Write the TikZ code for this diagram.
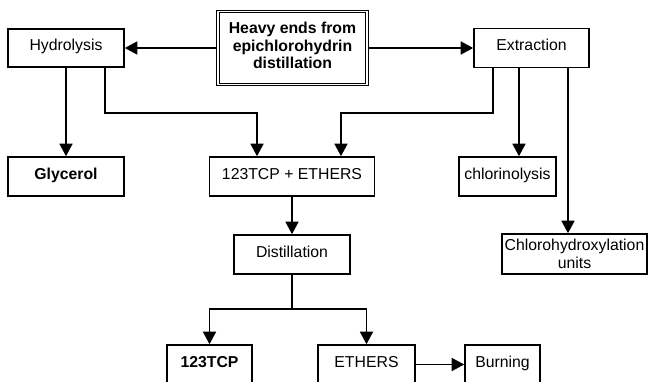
\documentclass[tikz,border=0pt]{standalone}
\usepackage{fontspec}
\setmainfont{Liberation Sans}
\usetikzlibrary{arrows.meta,calc}
\begin{document}
\begin{tikzpicture}[x=1pt,y=-1pt,
  base/.style={draw, line width=1.6pt, inner sep=2pt, font=\fontsize{15.8}{18}\selectfont},
  box/.style={base, text height=12pt, text depth=6.7pt},
  mbox/.style={base, align=center},
  arr/.style={line width=1.6pt, -{Triangle[length=12.5pt,width=13pt]}}]
\useasboundingbox (0,0) rectangle (648,381);
\clip (0,0) rectangle (648,381);
% nodes
\node[draw, double, double distance=1.6pt, line width=1.1pt, minimum width=149pt, minimum height=73pt,
  label={[font=\fontsize{15.8}{17.5}\selectfont\bfseries, align=center, yshift=2.5pt]center:Heavy ends from\\epichlorohydrin\\distillation}] (heavy) at (292.5,48) {};
\node[box, minimum width=116pt, minimum height=38pt] (hyd) at (66,48) {Hydrolysis};
\node[box, minimum width=115pt, minimum height=39pt] (ext) at (531.5,48) {Extraction};
\node[box, minimum width=116pt, minimum height=39pt, font=\fontsize{15.8}{18}\selectfont\bfseries] (gly) at (66,176.5) {Glycerol};
\node[box, minimum width=165pt, minimum height=39pt] (tcpe) at (292,176.5) {123TCP + ETHERS};
\node[box, minimum width=97pt, minimum height=39pt] (chl) at (507.5,176.5) {chlorinolysis};
\node[mbox, minimum width=145pt, minimum height=40pt] (chx) at (574.5,254) {Chlorohydroxylation\\units};
\node[box, minimum width=116pt, minimum height=39pt] (dist) at (292,254.5) {Distillation};
\node[box, minimum width=85pt, minimum height=39pt, font=\fontsize{15.8}{18}\selectfont\bfseries] (tcp) at (209.5,364.5) {123TCP};
\node[box, minimum width=97pt, minimum height=39pt] (eth) at (366.5,364.5) {ETHERS};
\node[box, minimum width=75pt, minimum height=39pt] (burn) at (502.5,364.5) {Burning};
% junction levels
\coordinate (j1) at (0,113);
\coordinate (j2) at (0,309);
% connectors
\draw[arr] (heavy.west) -- (hyd.east);
\draw[arr] (heavy.east) -- (ext.west);
\draw[arr] (hyd.south) -- (gly.north);
\coordinate (ha) at ($(hyd.south)+(39,0)$);
\coordinate (ta) at ($(tcpe.north)+(-35,0)$);
\draw[arr] (ha) -- (ha |- j1) -| (ta);
\coordinate (ea) at ($(ext.south)+(-38.5,0)$);
\coordinate (tb) at ($(tcpe.north)+(49,0)$);
\draw[arr] (ea) -- (ea |- j1) -| (tb);
\coordinate (ec) at ($(ext.south)+(-12.5,0)$);
\draw[arr] (ec) -- (ec |- chl.north);
\coordinate (ex) at ($(ext.south)+(36.5,0)$);
\draw[arr] (ex) -- (ex |- chx.north);
\draw[arr] (tcpe.south) -- (dist.north);
\draw[arr] (dist.south) -- (dist.south |- j2) -| (tcp.north);
\draw[arr] (dist.south |- j2) -| (eth.north);
\draw[arr] (eth.east) -- (burn.west);
\end{tikzpicture}
\end{document}
